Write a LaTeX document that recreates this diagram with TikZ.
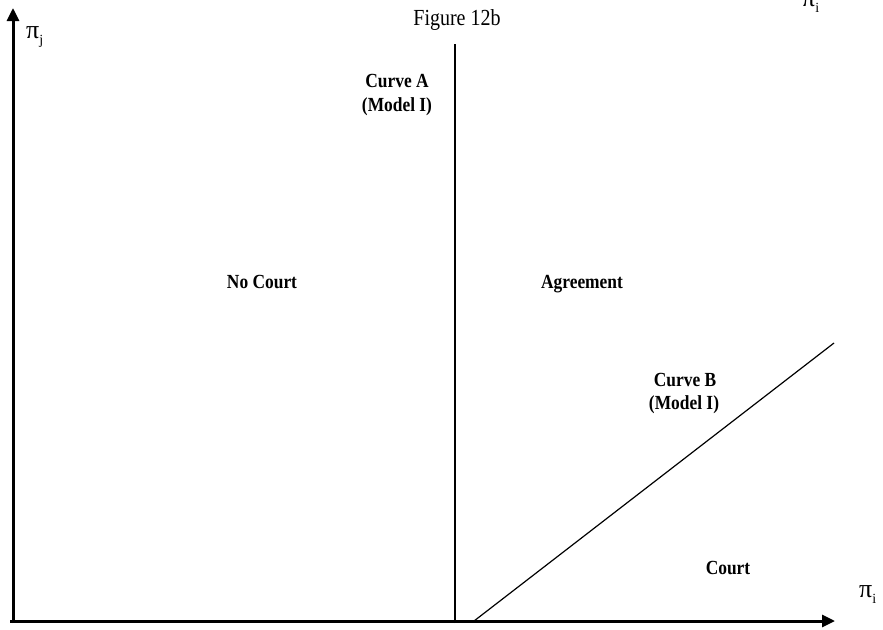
\documentclass[tikz,border=0pt]{standalone}
\usepackage{fontspec}
\setmainfont{Liberation Serif}
\newfontfamily\narrowserif[FakeStretch=0.87]{Liberation Serif}
\usetikzlibrary{arrows.meta}
\newcommand{\pisub}[1]{π\raisebox{-0.25em}{\fontsize{14}{14}\selectfont #1}}
\begin{document}
\begin{tikzpicture}[x=1pt,y=-1pt,
  axis/.style={line width=3pt,-{Triangle[length=13pt,width=12pt]}},
  boundary/.style={line width=1.2pt},
  region/.style={font=\narrowserif\bfseries\fontsize{20}{24}\selectfont,anchor=base,inner sep=0pt},
  axislabel/.style={font=\fontsize{26}{28}\selectfont,anchor=base west,inner sep=0pt},
  caption/.style={font=\narrowserif\fontsize{23}{26}\selectfont,anchor=base,inner sep=0pt},
]
\useasboundingbox (0,0) rectangle (883,629);

% axes
\coordinate (ybot) at (13,623);
\coordinate (ytip) at (13,8);
\coordinate (xleft) at (10,621);
\coordinate (xtip) at (835,621);
\draw[axis] (ybot) -- (ytip);
\draw[axis] (xleft) -- (xtip);

% boundary curves
\coordinate (atop) at (455,44);
\coordinate (abot) at (455,623);
\coordinate (bstart) at (474,621);
\coordinate (bend) at (834,343);
\draw[boundary] (abot) -- (atop);
\draw[boundary] (bstart) -- (bend);

% captions and labels
\node[caption] (title) at (457,25) {Figure 12b};
\node[axislabel] (pij) at (26,38) {\pisub{j}};
\node[axislabel] (pii) at (859,597) {\pisub{i}};
\node[axislabel] (piitop) at (802,6) {\pisub{i}};

\node[region] (curveA) at (397,87) {Curve A};
\node[region] (modelA) at (397,111) {(Model I)};
\node[region] (nocourt) at (262,288) {No Court};
\node[region] (agree) at (582,288) {Agreement};
\node[region] (curveB) at (685,386) {Curve B};
\node[region] (modelB) at (684,409) {(Model I)};
\node[region] (court) at (728,574) {Court};
\end{tikzpicture}
\end{document}
